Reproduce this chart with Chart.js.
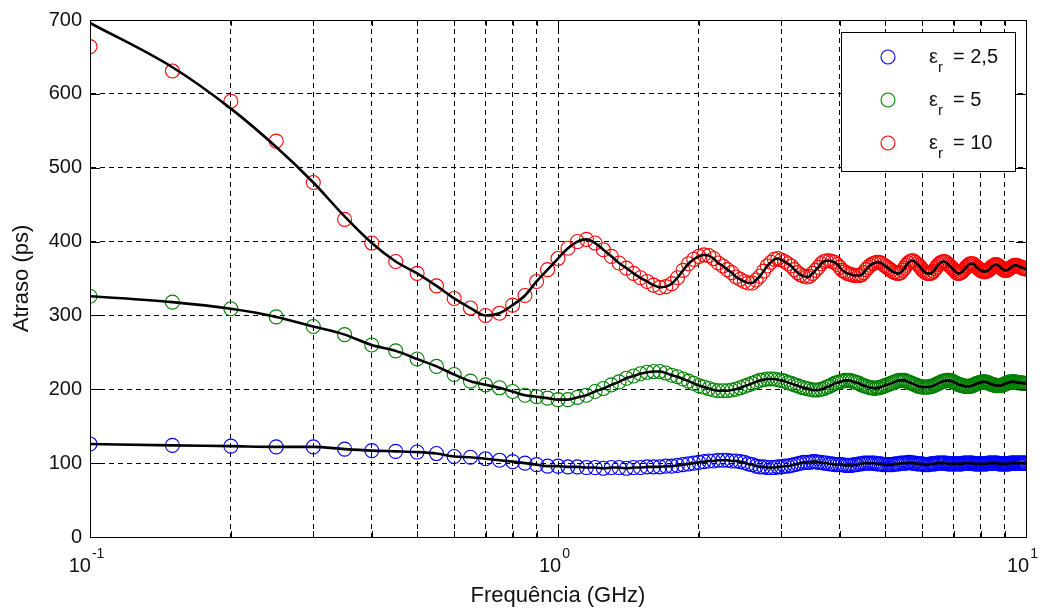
<!DOCTYPE html>
<html lang="pt">
<head>
<meta charset="UTF-8">
<title>Atraso x Frequência</title>
<script src="https://cdn.jsdelivr.net/npm/chart.js@4.4.1/dist/chart.umd.min.js"></script>
<style>
  body { margin: 0; background: #fff; }
  #box { width: 1046px; height: 610px; }
</style>
</head>
<body>
<div id="box"><canvas id="delayChart"></canvas></div>
<script>
// frequency grid (GHz): 0.1 to 10 in 0.05 steps
const freqStart = 0.1, freqStep = 0.05, freqCount = 199;
const freqs = Array.from({ length: freqCount }, (_, i) => +(freqStart + freqStep * i).toFixed(2));

// delay (ps), one row = 10 samples
const delayEr25 = [
  126, 124, 123, 122, 122, 119, 117, 116, 115, 113,
  109, 108, 106, 104, 102, 100, 98, 96, 96, 95,
  95, 94, 94, 93, 94, 94, 93, 94, 94, 95,
  95, 95, 96, 96, 97, 98, 99, 100, 101, 102,
  103, 103, 104, 104, 104, 103, 103, 102, 101, 99,
  98, 96, 95, 95, 94, 94, 94, 95, 95, 96,
  96, 97, 98, 99, 100, 101, 101, 101, 102, 102,
  101, 101, 100, 100, 99, 99, 98, 98, 98, 98,
  97, 97, 97, 97, 98, 98, 99, 99, 100, 100,
  100, 100, 100, 100, 99, 99, 99, 98, 98, 98,
  98, 98, 98, 99, 99, 99, 100, 100, 100, 100,
  101, 101, 100, 100, 100, 99, 99, 99, 99, 98,
  98, 98, 98, 99, 99, 99, 99, 100, 100, 100,
  100, 100, 100, 100, 99, 99, 99, 99, 99, 99,
  99, 99, 99, 99, 99, 100, 100, 100, 100, 100,
  100, 100, 100, 99, 99, 99, 99, 99, 99, 99,
  99, 99, 99, 99, 100, 100, 100, 100, 100, 100,
  100, 100, 100, 99, 99, 99, 99, 99, 99, 99,
  99, 99, 99, 100, 100, 100, 100, 100, 100, 100,
  100, 100, 100, 100, 100, 100, 100, 100, 100
];

const delayEr5 = [
  326, 318, 309, 298, 285, 274, 260, 252, 241, 231,
  220, 211, 206, 202, 197, 192, 190, 188, 186, 186,
  189, 192, 197, 201, 206, 210, 215, 218, 221, 223,
  224, 224, 222, 219, 217, 214, 211, 208, 205, 203,
  201, 199, 198, 198, 198, 199, 200, 202, 204, 206,
  208, 210, 212, 213, 214, 214, 214, 213, 212, 211,
  209, 208, 206, 205, 203, 202, 201, 200, 199, 199,
  199, 200, 201, 203, 204, 206, 208, 209, 210, 211,
  212, 212, 212, 211, 210, 209, 208, 206, 205, 204,
  203, 202, 202, 201, 202, 202, 203, 204, 205, 206,
  207, 208, 209, 210, 211, 212, 212, 212, 212, 211,
  210, 209, 208, 207, 206, 205, 204, 204, 203, 203,
  203, 203, 203, 204, 204, 205, 206, 207, 208, 209,
  210, 211, 211, 212, 212, 212, 211, 211, 210, 209,
  208, 207, 206, 206, 205, 205, 204, 204, 204, 204,
  204, 205, 205, 206, 207, 208, 208, 209, 209, 210,
  210, 210, 210, 209, 209, 208, 207, 207, 206, 206,
  205, 205, 205, 205, 205, 205, 206, 206, 207, 208,
  208, 209, 209, 210, 210, 210, 210, 210, 210, 209,
  209, 209, 209, 209, 208, 208, 208, 208, 208
];

const delayEr10 = [
  664, 631, 590, 536, 480, 430, 398, 373, 357, 340,
  323, 310, 300, 303, 314, 327, 346, 362, 377, 391,
  400, 403, 398, 389, 380, 371, 364, 357, 351, 346,
  341, 338, 339, 343, 351, 361, 370, 376, 380, 382,
  381, 377, 371, 367, 362, 358, 352, 349, 346, 344,
  344, 348, 353, 360, 367, 372, 376, 377, 375, 373,
  370, 367, 362, 358, 355, 353, 352, 353, 357, 361,
  365, 370, 373, 374, 374, 373, 372, 369, 365, 361,
  359, 357, 356, 355, 354, 354, 354, 355, 358, 362,
  365, 368, 370, 371, 372, 372, 371, 369, 367, 365,
  363, 361, 359, 358, 357, 357, 358, 361, 364, 368,
  371, 373, 374, 374, 372, 370, 368, 365, 362, 360,
  358, 357, 357, 357, 358, 360, 363, 366, 369, 371,
  372, 373, 373, 372, 370, 368, 366, 364, 362, 360,
  358, 357, 357, 358, 359, 361, 363, 365, 367, 369,
  370, 370, 370, 369, 367, 365, 364, 362, 361, 360,
  360, 359, 360, 360, 361, 362, 364, 366, 367, 368,
  369, 369, 368, 367, 366, 364, 363, 362, 361, 361,
  361, 362, 363, 364, 365, 366, 367, 368, 368, 368,
  367, 367, 366, 365, 365, 364, 364, 363, 363
];
// the black curve for er=10 starts above the first samples
const fitEr10Head = [696, 636, 580, 528, 480, 434];

const xTicks = [0.1, 0.2, 0.3, 0.4, 0.5, 0.6, 0.7, 0.8, 0.9, 1, 2, 3, 4, 5, 6, 7, 8, 9, 10];
const xMajorTicks = [0.1, 1, 10];
const xMajorExp = ['-1', '0', '1'];
const yTicks = [0, 100, 200, 300, 400, 500, 600, 700];
const legendValues = ['2,5', '5', '10'];
const seriesColors = ['#0000ff', '#008000', '#ff0000'];

const FONT = '"Liberation Sans", Arial, sans-serif';
const INK = '#111';

const pts = vals => freqs.map((f, i) => ({ x: f, y: vals[i] }));
const fitEr10 = fitEr10Head.concat(delayEr10.slice(fitEr10Head.length));

function markers(vals, color) {
  return {
    data: pts(vals), showLine: false, order: 1,
    pointStyle: 'circle', pointRadius: 7, pointBorderWidth: 1.1,
    pointBorderColor: color, pointBackgroundColor: 'rgba(0,0,0,0)'
  };
}
function curve(vals) {
  return {
    data: pts(vals), order: 0, borderColor: '#000', borderWidth: 2.6,
    pointRadius: 0, cubicInterpolationMode: 'monotone', fill: false
  };
}

// box, inward ticks, superscript decade labels and the legend
const axesDeco = {
  id: 'axesDeco',
  afterDraw(chart) {
    const ctx = chart.ctx;
    const a = chart.chartArea;
    const xs = chart.scales.x, ys = chart.scales.y;
    ctx.save();
    ctx.strokeStyle = '#000';
    ctx.lineWidth = 1;
    ctx.setLineDash([]);
    ctx.strokeRect(Math.round(a.left) + 0.5, Math.round(a.top) + 0.5,
      Math.round(a.right - a.left), Math.round(a.bottom - a.top));

    ctx.beginPath();
    xTicks.forEach(v => {
      const x = Math.round(xs.getPixelForValue(v)) + 0.5;
      const len = xMajorTicks.includes(v) ? 10 : 6;
      ctx.moveTo(x, a.bottom); ctx.lineTo(x, a.bottom - len);
      ctx.moveTo(x, a.top); ctx.lineTo(x, a.top + len);
    });
    yTicks.forEach(v => {
      const y = Math.round(ys.getPixelForValue(v)) + 0.5;
      ctx.moveTo(a.left, y); ctx.lineTo(a.left + 10, y);
      ctx.moveTo(a.right, y); ctx.lineTo(a.right - 10, y);
    });
    ctx.stroke();

    // 10^n labels under the decades
    ctx.fillStyle = INK;
    ctx.textBaseline = 'alphabetic';
    ctx.textAlign = 'left';
    xMajorTicks.forEach((v, i) => {
      const x = xs.getPixelForValue(v);
      ctx.font = '20px ' + FONT;
      const wBase = ctx.measureText('10').width;
      ctx.font = '14px ' + FONT;
      const wExp = ctx.measureText(xMajorExp[i]).width;
      const x0 = x - (wBase + wExp) / 2 - 4;
      ctx.font = '20px ' + FONT;
      ctx.fillText('10', x0, a.bottom + 35);
      ctx.font = '14px ' + FONT;
      ctx.fillText(xMajorExp[i], x0 + wBase + 1, a.bottom + 21);
    });

    // legend
    const lx = a.right - 185, ly = a.top + 12, lw = 174, lh = 139;
    ctx.fillStyle = '#fff';
    ctx.fillRect(lx, ly, lw, lh);
    ctx.strokeStyle = '#000';
    ctx.strokeRect(Math.round(lx) + 0.5, Math.round(ly) + 0.5, lw, lh);
    legendValues.forEach((val, i) => {
      const cy = ly + 25 + 43 * i;
      ctx.beginPath();
      ctx.arc(lx + 47, cy, 7, 0, Math.PI * 2);
      ctx.strokeStyle = seriesColors[i];
      ctx.lineWidth = 1.1;
      ctx.stroke();
      ctx.fillStyle = INK;
      ctx.font = '20px ' + FONT;
      ctx.fillText('ε', lx + 88, cy + 6);
      const wEps = ctx.measureText('ε').width;
      ctx.font = '15px ' + FONT;
      ctx.fillText('r', lx + 88 + wEps, cy + 15);
      ctx.font = '20px ' + FONT;
      ctx.fillText('= ' + val, lx + 112, cy + 6);
    });
    ctx.restore();
  }
};

new Chart(document.getElementById('delayChart'), {
  type: 'line',
  data: {
    datasets: [
      markers(delayEr25, seriesColors[0]),
      markers(delayEr5, seriesColors[1]),
      markers(delayEr10, seriesColors[2]),
      curve(delayEr25),
      curve(delayEr5),
      curve(fitEr10)
    ]
  },
  options: {
    responsive: true,
    maintainAspectRatio: false,
    animation: false,
    layout: { padding: { top: 20, right: 20, left: 0, bottom: 0 } },
    plugins: { legend: { display: false }, tooltip: { enabled: false } },
    scales: {
      x: {
        type: 'logarithmic',
        min: 0.1,
        max: 10,
        afterBuildTicks: s => { s.ticks = xTicks.map(v => ({ value: v })); },
        afterFit: s => { s.height = 73; },
        ticks: { display: false },
        grid: { color: '#000', lineWidth: 1, drawTicks: false },
        border: { display: true, color: '#000', width: 1, dash: [5, 4] },
        title: {
          display: true, text: 'Frequência (GHz)', color: INK,
          font: { family: FONT, size: 22 }, padding: { top: 0, bottom: 1 }
        }
      },
      y: {
        min: 0,
        max: 700,
        afterBuildTicks: s => { s.ticks = yTicks.map(v => ({ value: v })); },
        afterFit: s => { s.width = 90; },
        ticks: { color: INK, font: { family: FONT, size: 20 }, padding: 8 },
        grid: { color: '#000', lineWidth: 1, drawTicks: false },
        border: { display: true, color: '#000', width: 1, dash: [5, 4] },
        title: {
          display: true, text: 'Atraso (ps)', color: INK,
          font: { family: FONT, size: 22 }, padding: { top: 9, bottom: 0 }
        }
      }
    }
  },
  plugins: [axesDeco]
});
</script>
</body>
</html>
